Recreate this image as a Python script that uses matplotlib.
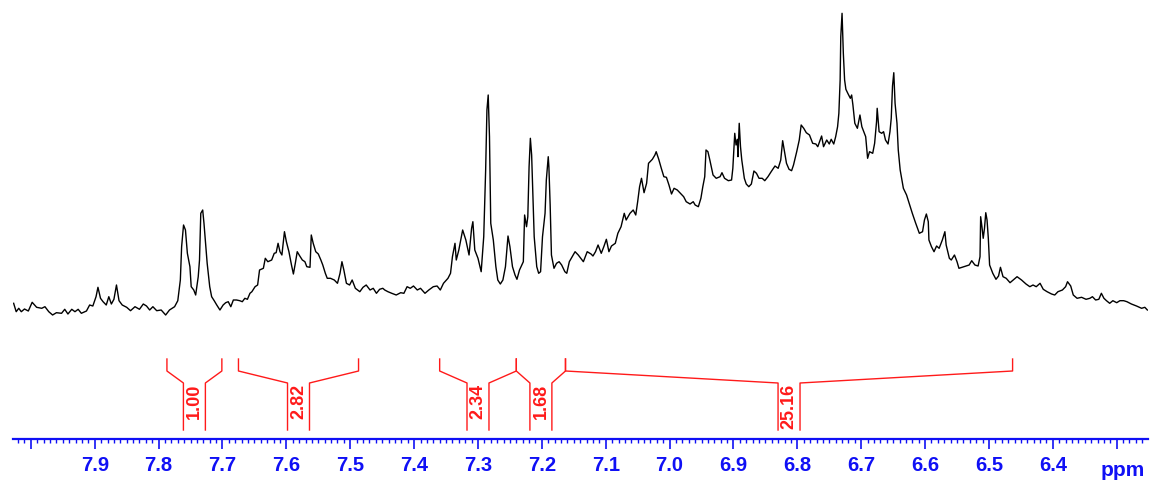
import matplotlib
matplotlib.use("Agg")
import matplotlib.pyplot as plt
from matplotlib.ticker import FixedLocator, MultipleLocator

# 1H NMR spectrum, aromatic region (ppm, intensity in arbitrary units)
shift = [
    8.027, 8.023, 8.019, 8.015, 8.010, 8.004, 7.998, 7.991, 7.983, 7.978,
    7.972, 7.966, 7.960, 7.952, 7.947, 7.942, 7.936, 7.931, 7.926, 7.921,
    7.913, 7.908, 7.903, 7.898, 7.895, 7.891, 7.887, 7.882, 7.878, 7.874,
    7.870, 7.866, 7.862, 7.857, 7.850, 7.844, 7.837, 7.830, 7.824, 7.819,
    7.814, 7.809, 7.803, 7.796, 7.789, 7.783, 7.775, 7.770, 7.766, 7.764,
    7.761, 7.758, 7.755, 7.751, 7.749, 7.745, 7.742, 7.738, 7.736, 7.734,
    7.731, 7.729, 7.726, 7.724, 7.720, 7.717, 7.713, 7.709, 7.704, 7.699,
    7.695, 7.691, 7.687, 7.683, 7.678, 7.673, 7.669, 7.665, 7.661, 7.657,
    7.654, 7.649, 7.645, 7.642, 7.636, 7.633, 7.629, 7.623, 7.619, 7.616,
    7.613, 7.610, 7.607, 7.603, 7.600, 7.596, 7.592, 7.589, 7.586, 7.583,
    7.579, 7.575, 7.571, 7.568, 7.563, 7.561, 7.558, 7.554, 7.550, 7.546,
    7.543, 7.539, 7.536, 7.531, 7.525, 7.520, 7.516, 7.513, 7.510, 7.506,
    7.501, 7.497, 7.492, 7.485, 7.480, 7.475, 7.469, 7.464, 7.459, 7.454,
    7.449, 7.446, 7.441, 7.435, 7.428, 7.421, 7.416, 7.411, 7.406, 7.401,
    7.395, 7.390, 7.383, 7.377, 7.370, 7.364, 7.359, 7.354, 7.347, 7.343,
    7.340, 7.336, 7.334, 7.330, 7.324, 7.319, 7.314, 7.310, 7.308, 7.305,
    7.300, 7.295, 7.291, 7.288, 7.286, 7.284, 7.282, 7.280, 7.276, 7.272,
    7.269, 7.265, 7.261, 7.257, 7.253, 7.250, 7.246, 7.242, 7.239, 7.235,
    7.229, 7.227, 7.224, 7.222, 7.220, 7.218, 7.216, 7.214, 7.212, 7.208,
    7.205, 7.202, 7.199, 7.195, 7.193, 7.190, 7.189, 7.187, 7.185, 7.181,
    7.177, 7.173, 7.169, 7.164, 7.161, 7.157, 7.154, 7.148, 7.143, 7.135,
    7.129, 7.123, 7.120, 7.116, 7.112, 7.107, 7.103, 7.099, 7.095, 7.091,
    7.085, 7.081, 7.076, 7.071, 7.068, 7.062, 7.057, 7.053, 7.050, 7.047,
    7.044, 7.040, 7.036, 7.033, 7.027, 7.023, 7.021, 7.017, 7.013, 7.009,
    7.005, 7.001, 6.997, 6.993, 6.988, 6.983, 6.978, 6.974, 6.968, 6.963,
    6.960, 6.955, 6.951, 6.948, 6.945, 6.943, 6.940, 6.937, 6.932, 6.927,
    6.921, 6.918, 6.914, 6.908, 6.903, 6.901, 6.898, 6.896, 6.894, 6.893,
    6.891, 6.889, 6.887, 6.883, 6.880, 6.876, 6.872, 6.868, 6.864, 6.860,
    6.855, 6.851, 6.846, 6.841, 6.835, 6.830, 6.826, 6.823, 6.820, 6.817,
    6.813, 6.809, 6.806, 6.801, 6.797, 6.794, 6.790, 6.786, 6.781, 6.776,
    6.771, 6.768, 6.762, 6.759, 6.754, 6.750, 6.747, 6.743, 6.740, 6.737,
    6.735, 6.733, 6.732, 6.730, 6.728, 6.726, 6.724, 6.721, 6.717, 6.715,
    6.713, 6.710, 6.706, 6.702, 6.699, 6.696, 6.693, 6.690, 6.687, 6.682,
    6.679, 6.676, 6.675, 6.672, 6.668, 6.665, 6.662, 6.658, 6.655, 6.653,
    6.651, 6.649, 6.647, 6.644, 6.642, 6.639, 6.634, 6.629, 6.625, 6.620,
    6.615, 6.609, 6.604, 6.601, 6.598, 6.595, 6.594, 6.590, 6.586, 6.582,
    6.578, 6.573, 6.569, 6.567, 6.562, 6.559, 6.554, 6.550, 6.547, 6.542,
    6.536, 6.531, 6.527, 6.522, 6.517, 6.514, 6.513, 6.511, 6.509, 6.507,
    6.505, 6.503, 6.501, 6.499, 6.494, 6.489, 6.485, 6.482, 6.478, 6.473,
    6.467, 6.462, 6.456, 6.449, 6.442, 6.436, 6.431, 6.426, 6.420, 6.415,
    6.409, 6.402, 6.397, 6.392, 6.385, 6.380, 6.377, 6.372, 6.368, 6.362,
    6.355, 6.348, 6.342, 6.338, 6.333, 6.328, 6.324, 6.320, 6.316, 6.311,
    6.306, 6.300, 6.295, 6.289, 6.284, 6.277, 6.269, 6.261, 6.256, 6.252,
]
intensity = [
    16.7, 8.3, 11.7, 8.3, 11.0, 9.0, 17.7, 12.7, 11.7, 13.3,
    8.3, 5.0, 7.3, 6.7, 10.7, 6.0, 10.7, 8.3, 10.7, 6.7,
    9.0, 15.0, 14.0, 23.3, 32.7, 21.7, 18.3, 15.0, 23.3, 16.0,
    20.7, 35.0, 19.3, 15.0, 12.7, 9.3, 13.3, 10.7, 16.0, 14.0,
    10.0, 13.3, 9.3, 10.0, 5.0, 10.0, 13.3, 19.3, 40.0, 73.3,
    95.0, 90.0, 66.7, 53.3, 33.3, 30.0, 25.0, 43.3, 60.0, 106.7,
    110.0, 96.7, 73.3, 56.7, 33.3, 23.3, 19.3, 15.0, 10.0, 15.0,
    17.3, 18.3, 13.3, 20.0, 20.0, 19.3, 18.3, 21.7, 20.7, 26.7,
    28.3, 33.3, 35.0, 50.0, 51.7, 61.7, 58.3, 60.0, 66.7, 67.3,
    76.7, 68.3, 65.0, 88.3, 78.3, 68.3, 55.0, 46.0, 56.7, 68.3,
    64.0, 60.0, 58.3, 53.3, 52.7, 85.0, 76.7, 68.3, 66.0, 60.0,
    55.0, 46.7, 41.7, 41.7, 40.0, 36.7, 46.7, 58.3, 50.0, 36.7,
    35.0, 40.0, 31.7, 28.3, 32.7, 35.0, 30.0, 31.7, 26.7, 30.7,
    31.7, 30.0, 28.3, 26.7, 25.0, 27.3, 26.7, 33.3, 31.7, 34.0,
    30.0, 31.7, 26.7, 30.0, 33.3, 34.0, 30.0, 36.7, 41.7, 46.7,
    63.3, 76.7, 60.0, 70.0, 90.0, 80.0, 65.0, 91.7, 98.3, 70.0,
    61.7, 48.3, 83.3, 150.0, 210.0, 225.0, 183.3, 96.7, 80.0, 53.3,
    40.0, 36.0, 40.0, 53.3, 84.0, 73.3, 53.3, 45.0, 40.7, 50.0,
    58.3, 105.0, 93.3, 103.3, 153.3, 181.7, 165.0, 125.0, 83.3, 53.3,
    46.7, 48.3, 83.3, 106.7, 140.0, 163.3, 153.3, 115.0, 65.0, 51.7,
    56.7, 58.3, 55.0, 48.3, 46.7, 58.3, 61.7, 68.3, 65.0, 58.3,
    68.3, 66.0, 64.0, 68.3, 75.0, 66.7, 73.3, 80.7, 68.3, 74.0,
    76.7, 86.7, 93.3, 106.7, 100.0, 106.7, 110.0, 105.0, 118.3, 133.3,
    141.7, 127.3, 136.7, 156.7, 160.7, 165.0, 168.3, 160.7, 151.7, 143.3,
    142.7, 135.0, 126.0, 131.7, 130.0, 126.7, 123.3, 118.3, 116.0, 118.3,
    115.0, 113.3, 121.7, 133.3, 143.3, 170.0, 168.3, 160.0, 145.0, 141.7,
    143.3, 147.3, 141.7, 139.3, 140.0, 151.7, 186.7, 175.0, 180.7, 163.3,
    196.7, 173.3, 160.0, 141.7, 136.0, 133.3, 136.0, 149.0, 146.7, 141.7,
    141.7, 139.3, 143.3, 148.3, 154.0, 151.7, 160.0, 179.3, 168.3, 156.7,
    150.7, 149.3, 155.0, 168.3, 180.0, 195.0, 191.7, 187.3, 185.0, 176.7,
    176.0, 173.3, 184.0, 173.3, 180.0, 176.0, 180.7, 176.0, 183.3, 193.3,
    206.7, 240.0, 283.3, 306.7, 266.7, 240.0, 230.7, 226.7, 221.7, 225.0,
    215.0, 196.7, 191.7, 205.0, 193.3, 188.3, 183.3, 161.7, 168.3, 166.7,
    176.7, 198.3, 211.7, 188.3, 186.7, 188.3, 180.0, 176.0, 188.3, 201.7,
    234.0, 247.3, 216.7, 196.7, 170.0, 150.0, 131.7, 125.0, 116.7, 106.7,
    97.3, 86.7, 88.3, 100.0, 106.0, 98.3, 80.0, 73.3, 68.3, 74.0,
    71.7, 80.0, 88.3, 75.0, 61.7, 60.0, 65.0, 58.3, 51.7, 52.7,
    54.0, 55.0, 59.3, 55.0, 54.0, 63.3, 103.3, 93.3, 81.7, 91.7,
    107.3, 100.0, 81.7, 55.0, 46.7, 40.7, 44.0, 52.7, 43.3, 41.7,
    37.3, 40.0, 43.3, 40.0, 36.0, 33.3, 35.0, 33.3, 36.7, 30.7,
    28.3, 26.0, 25.0, 28.3, 30.0, 33.3, 38.3, 34.0, 25.0, 21.7,
    22.7, 20.7, 21.7, 23.3, 20.0, 20.7, 26.7, 21.7, 19.3, 16.7,
    19.3, 17.3, 19.3, 19.3, 18.3, 16.0, 14.0, 11.7, 12.7, 10.0,
]

# integrals: region start / end (ppm) and value
int_start = [7.787, 7.675, 7.360, 7.240, 7.163]
int_end = [7.701, 7.487, 7.240, 7.163, 6.463]
int_value = ["1.00", "2.82", "2.34", "1.68", "25.16"]

major_ticks = [8.0, 7.9, 7.8, 7.7, 7.6, 7.5, 7.4, 7.3, 7.2, 7.1, 7.0,
               6.9, 6.8, 6.7, 6.6, 6.5, 6.4, 6.3]
tick_labels = ["", "7.9", "7.8", "7.7", "7.6", "7.5", "7.4", "7.3", "7.2",
               "7.1", "7.0", "6.9", "6.8", "6.7", "6.6", "6.5", "6.4", ""]

blue = "#1010f5"
red = "#ff1a1a"
font = "Liberation Sans"

fig = plt.figure(figsize=(11.51, 4.83), dpi=100)
ax = fig.add_axes([13 / 1151, 44 / 483, 1135 / 1151, 439 / 483])
ax.set_xlim(8.028, 6.251)
ax.set_ylim(-119, 320)

ax.plot(shift, intensity, color="black", lw=1.0)

# integral brackets
gap = 0.0172
for s, e, v in zip(int_start, int_end, int_value):
    mid = (s + e) / 2
    kw = dict(color=red, lw=1.0, clip_on=False)
    ax.plot([s, s, mid + gap, mid + gap], [-39, -51, -63, -110], **kw)
    ax.plot([e, e, mid - gap, mid - gap], [-39, -51, -63, -110], **kw)
    ax.text(mid, -64, v, rotation=90, ha="center", va="top", color=red,
            fontsize=13, fontweight="bold", family=font)

for side in ["top", "left", "right"]:
    ax.spines[side].set_visible(False)
ax.spines["bottom"].set_color(blue)
ax.spines["bottom"].set_linewidth(1.6)
ax.set_yticks([])

ax.xaxis.set_major_locator(FixedLocator(major_ticks))
ax.set_xticklabels(tick_labels)
ax.xaxis.set_minor_locator(MultipleLocator(0.01))
ax.tick_params(axis="x", which="major", direction="out", length=7.5, width=1.2,
               color=blue, labelcolor=blue, pad=5, labelsize=14.5)
ax.tick_params(axis="x", which="minor", direction="out", length=3, width=1,
               color=blue)
for lab in ax.get_xticklabels():
    lab.set_fontweight("bold")
    lab.set_family(font)

ax.text(6.290, -156, "ppm", ha="center", va="baseline", color=blue,
        fontsize=15, fontweight="bold", family=font, clip_on=False)

fig.savefig("out.png", dpi=100)
